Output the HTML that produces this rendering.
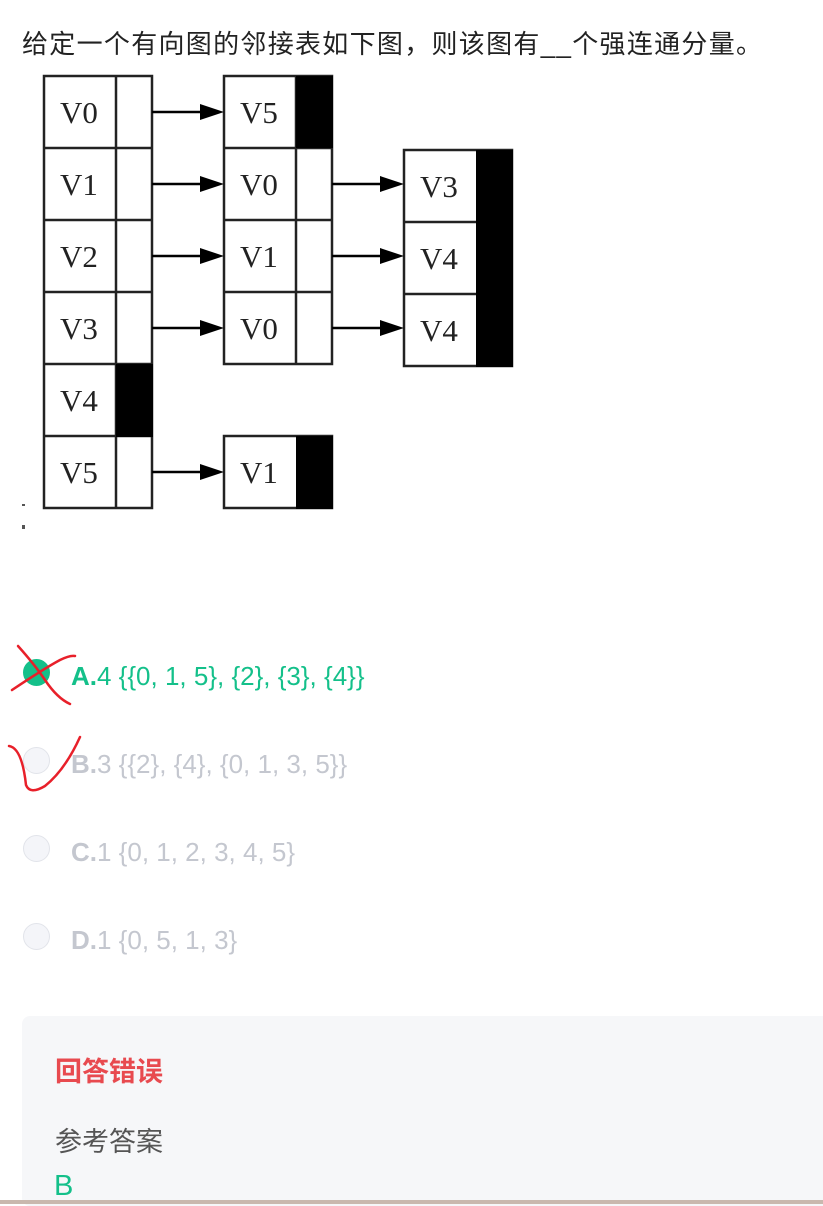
<!DOCTYPE html>
<html><head><meta charset="utf-8"><style>
body{margin:0;width:823px;height:1204px;background:#fff;position:relative;overflow:hidden;font-family:"Liberation Sans","Noto Sans CJK SC",sans-serif}
.t{position:absolute;left:22px;top:24px;font-size:26px;letter-spacing:1.3px;color:#222;white-space:nowrap}
.opt{position:absolute;left:71px;font-size:26px;white-space:nowrap;color:#c4c7cf}
.opt b{font-weight:bold}
.r{position:absolute;left:23px;width:25px;height:25px;border-radius:50%;border:1.5px solid #e2e4ea;background:#f4f5f9}
.box{position:absolute;left:22px;top:1016px;width:820px;height:190px;background:#f6f7f9;border-radius:8px}
</style></head><body>
<div class="t">给定一个有向图的邻接表如下图，则该图有__个强连通分量。</div>
<svg width="823" height="560" style="position:absolute;left:0;top:0" font-family="Liberation Serif,serif" font-size="31">
<g stroke="#222" stroke-width="2.5" fill="#fff">
<rect x="44" y="76" width="108" height="432"/>
<line x1="116" y1="76" x2="116" y2="508"/>
<line x1="44" y1="148" x2="152" y2="148"/><line x1="44" y1="220" x2="152" y2="220"/><line x1="44" y1="292" x2="152" y2="292"/><line x1="44" y1="364" x2="152" y2="364"/><line x1="44" y1="436" x2="152" y2="436"/>
<rect x="224" y="76" width="108" height="288"/>
<line x1="296" y1="76" x2="296" y2="364"/>
<line x1="224" y1="148" x2="332" y2="148"/><line x1="224" y1="220" x2="332" y2="220"/><line x1="224" y1="292" x2="332" y2="292"/>
<rect x="224" y="436" width="108" height="72"/>
<rect x="404" y="150" width="108" height="216"/>
<line x1="404" y1="222" x2="476" y2="222"/><line x1="404" y1="294" x2="476" y2="294"/>
</g>
<g fill="#000">
<rect x="296" y="76" width="37" height="72"/>
<rect x="116" y="364" width="37" height="73"/>
<rect x="296" y="436" width="37" height="73"/>
<rect x="476" y="150" width="37" height="217"/>
</g>
<g stroke="#000" stroke-width="2.5">
<line x1="152" y1="112" x2="206" y2="112"/><line x1="152" y1="184" x2="206" y2="184"/><line x1="152" y1="256" x2="206" y2="256"/><line x1="152" y1="328" x2="206" y2="328"/><line x1="152" y1="472" x2="206" y2="472"/>
<line x1="332" y1="184" x2="386" y2="184"/><line x1="332" y1="256" x2="386" y2="256"/><line x1="332" y1="328" x2="386" y2="328"/>
</g>
<g fill="#000">
<path d="M200,104 L224,112 L200,120z"/><path d="M200,176 L224,184 L200,192z"/><path d="M200,248 L224,256 L200,264z"/><path d="M200,320 L224,328 L200,336z"/><path d="M200,464 L224,472 L200,480z"/>
<path d="M380,176 L404,184 L380,192z"/><path d="M380,248 L404,256 L380,264z"/><path d="M380,320 L404,328 L380,336z"/>
</g>
<g fill="#222" text-anchor="middle">
<text x="79" y="123">V0</text><text x="79" y="195">V1</text><text x="79" y="267">V2</text><text x="79" y="339">V3</text><text x="79" y="411">V4</text><text x="79" y="483">V5</text>
<text x="259" y="123">V5</text><text x="259" y="195">V0</text><text x="259" y="267">V1</text><text x="259" y="339">V0</text><text x="259" y="483">V1</text>
<text x="439" y="197">V3</text><text x="439" y="269">V4</text><text x="439" y="341">V4</text>
</g>
<rect x="22" y="504" width="3" height="2" fill="#555"/><rect x="22" y="525" width="3" height="4" fill="#555"/>
</svg>
<div class="r" style="top:659px;background:#14c08a;border-color:#14c08a"></div>
<div class="r" style="top:747px"></div>
<div class="r" style="top:835px"></div>
<div class="r" style="top:923px"></div>
<div class="opt" style="top:661px;color:#14c08a"><b>A.</b>4 {{0, 1, 5}, {2}, {3}, {4}}</div>
<div class="opt" style="top:749px"><b>B.</b>3 {{2}, {4}, {0, 1, 3, 5}}</div>
<div class="opt" style="top:837px"><b>C.</b>1 {0, 1, 2, 3, 4, 5}</div>
<div class="opt" style="top:925px"><b>D.</b>1 {0, 5, 1, 3}</div>
<svg width="823" height="1204" style="position:absolute;left:0;top:0" fill="none" stroke="#e8202a" stroke-width="2.5" stroke-linecap="round">
<path d="M12,690 Q45,668 60,660 Q70,655 75,656"/>
<path d="M18,646 Q35,665 45,680 Q57,698 70,704"/>
<path d="M9,746 Q22,748 26,785 Q30,795 45,786 Q65,770 80,737"/>
</svg>
<div class="box"></div>
<div style="position:absolute;left:55px;top:1050px;font-size:27px;font-weight:bold;color:#e84a4f">回答错误</div>
<div style="position:absolute;left:55px;top:1120px;font-size:27px;color:#555">参考答案</div>
<div style="position:absolute;left:54px;top:1170px;font-size:29px;color:#14c08a">B</div>
<div style="position:absolute;left:0;top:1200px;width:823px;height:4px;background:#c9b8ae"></div>
</body></html>
